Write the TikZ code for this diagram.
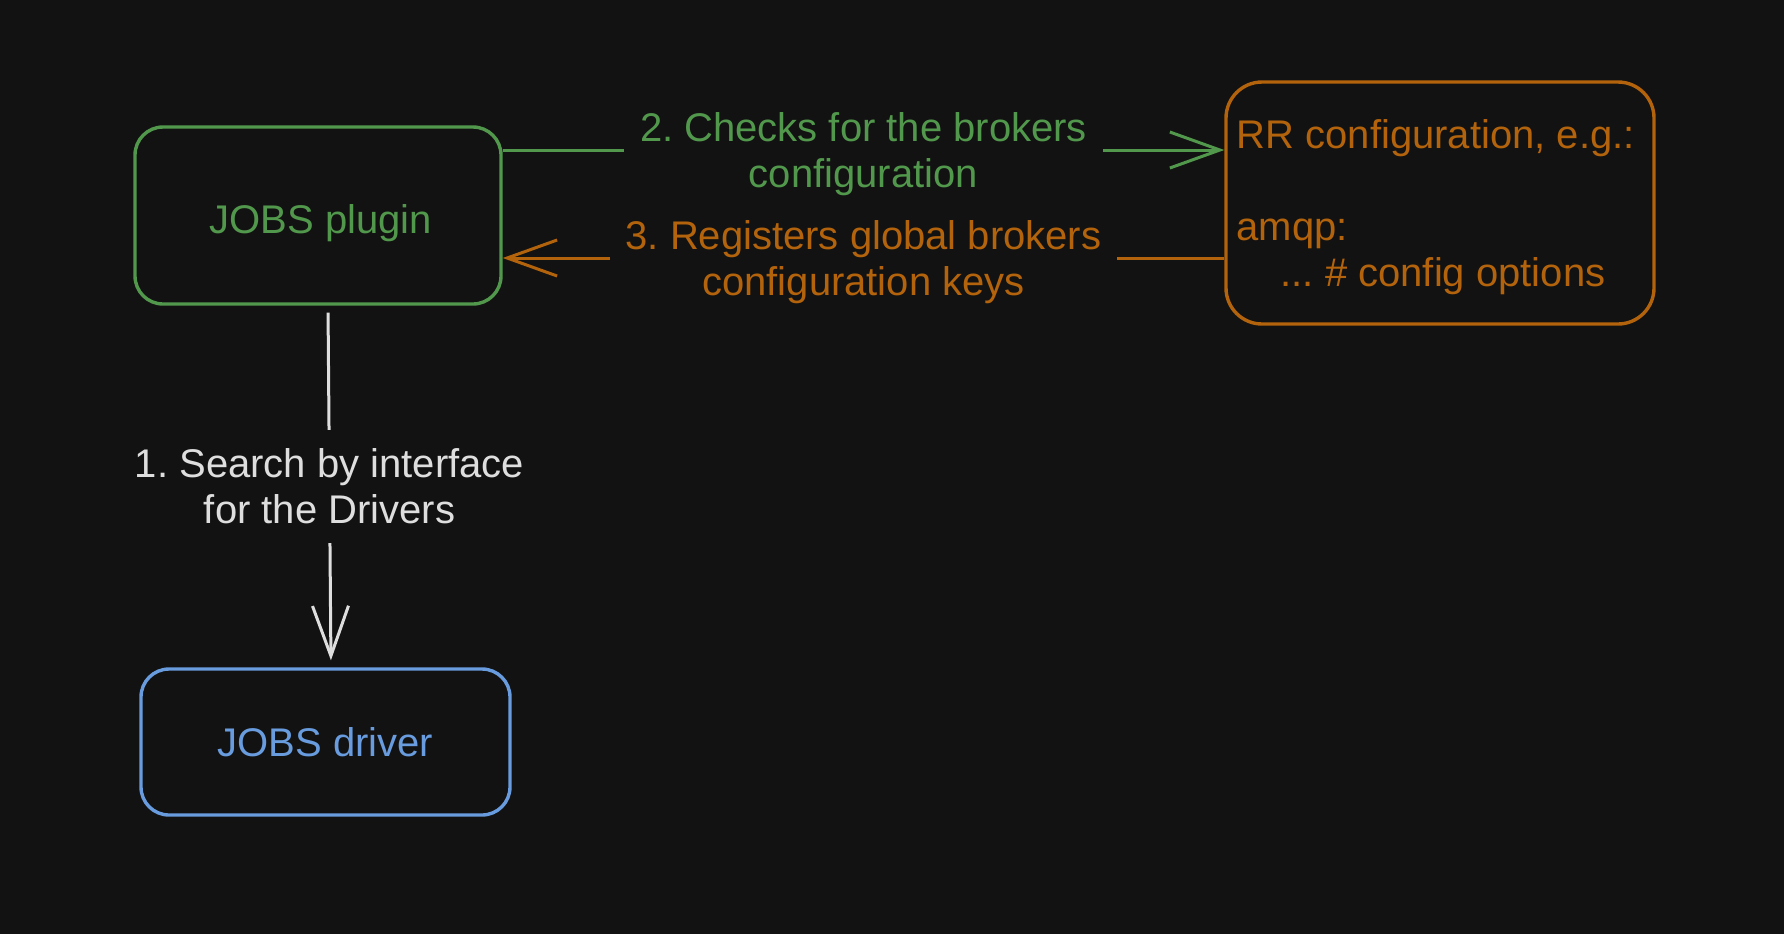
\documentclass[tikz,border=0pt]{standalone}
\usepackage{fontspec}
\setmainfont{Liberation Sans}
\usetikzlibrary{arrows.meta,calc}
\definecolor{bg}{RGB}{18,18,18}
\definecolor{cgreen}{RGB}{82,152,76}
\definecolor{corange}{RGB}{178,99,12}
\definecolor{cblue}{RGB}{104,156,222}
\definecolor{cgray}{RGB}{222,222,222}
\frenchspacing
\begin{document}
\begin{tikzpicture}[x=0.5pt,y=-0.5pt,
  box/.style={draw, rounded corners=14pt, line width=1.7pt, fill=bg, font=\fontsize{20}{23}\selectfont, inner sep=0pt},
  lbl/.style={fill=bg, align=center, inner xsep=8pt, inner ysep=4pt, font=\fontsize{20}{23}\selectfont\frenchspacing},
  txt/.style={inner sep=0pt, font=\fontsize{20}{23}\selectfont\frenchspacing},
  conn/.style={line width=1.5pt, -{Straight Barb[length=25pt,width=18pt]}}
]
\fill[bg] (0,0) rectangle (1784,934);
\useasboundingbox (0,0) rectangle (1784,934);
\node[box, draw=cgreen, minimum width=183pt, minimum height=88.5pt] (plugin) at (318,215.5) {};
\node[txt, text=cgreen] (plugintext) at ($(plugin.center)+(3,8)$) {JOBS plugin};
\node[box, draw=corange, minimum width=214pt, minimum height=121pt, rounded corners=18pt] (rr) at (1440,203) {};
\node[box, draw=cblue, text=cblue, minimum width=184.5pt, minimum height=73pt] (driver) at (325.5,742) {JOBS driver};
\node[txt, anchor=west, text=corange, align=left] (rrtext) at ($(rr.west)+(12,4)$) {RR configuration, e.g.:\\[23pt]amqp:\\\hspace*{22pt}... \# config options};
\coordinate (y2) at (0,150);
\coordinate (y3) at (0,258);
\draw[conn, cgreen] (plugin.east |- y2) -- node[lbl, text=cgreen, yshift=-2.3pt] (l2) {2. Checks for the brokers\\configuration} (rr.west |- y2);
\draw[conn, corange] (rr.west |- y3) -- node[lbl, text=corange, yshift=-2.3pt] (l3) {3. Registers global brokers\\configuration keys} (plugin.east |- y3);
\draw[conn, cgray, shorten <=3.5pt, shorten >=3.5pt] ($(plugin.south)+(10,0)$) -- node[lbl, text=cgray, inner ysep=9.5pt] (l1) {1. Search by interface\\for the Drivers} ($(driver.north)+(5.5,0)$);
\end{tikzpicture}
\end{document}
